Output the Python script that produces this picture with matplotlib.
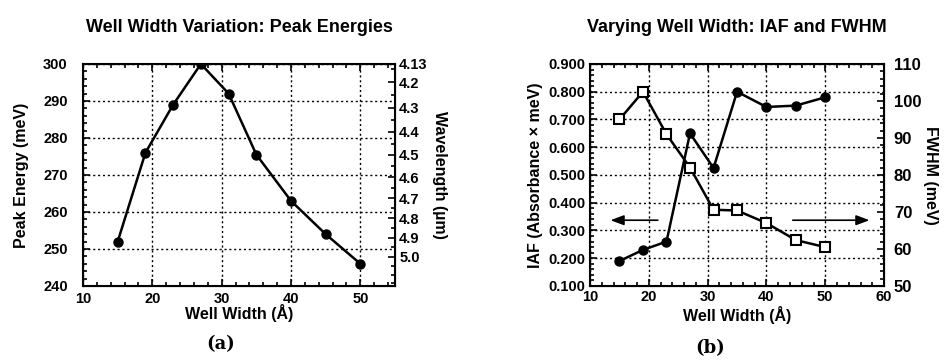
import matplotlib
matplotlib.use("Agg")
import matplotlib.pyplot as plt
from matplotlib.ticker import AutoMinorLocator, FixedLocator
import numpy as np

# ---- data ----
well_width = [15, 19, 23, 27, 31, 35, 40, 45, 50]
peak_energy = [252, 276, 289, 300, 292, 275.5, 263, 254, 246]
wavelength_ticks = [4.13, 4.2, 4.3, 4.4, 4.5, 4.6, 4.7, 4.8, 4.9, 5.0]
wavelength_labels = ["4.13", "4.2", "4.3", "4.4", "4.5", "4.6", "4.7", "4.8", "4.9", "5.0"]

iaf = [0.19, 0.23, 0.26, 0.65, 0.525, 0.80, 0.745, 0.75, 0.78]
fwhm = [95, 102.5, 91, 82, 70.6, 70.4, 67, 62.4, 60.5]

iaf_ticks = [0.1, 0.2, 0.3, 0.4, 0.5, 0.6, 0.7, 0.8, 0.9]
iaf_labels = ["0.100", "0.200", "0.300", "0.400", "0.500", "0.600", "0.700", "0.800", "0.900"]

plt.rcParams['font.family'] = ['Liberation Sans', 'DejaVu Sans']
plt.rcParams['font.weight'] = 'bold'

fig = plt.figure(figsize=(9.5, 3.6), dpi=100)

HC = 1239.84  # meV*um

def style(ax, size):
    ax.tick_params(which='both', direction='in', top=True, right=True, width=1.2, labelsize=size)
    ax.tick_params(which='major', length=5)
    ax.tick_params(which='minor', length=3)
    for s in ax.spines.values():
        s.set_linewidth(1.5)
    ax.grid(True, which='major', linestyle=(0, (1.5, 2)), color='black', linewidth=1.0)
    for lab in ax.get_xticklabels() + ax.get_yticklabels():
        lab.set_fontweight('bold')

# ---- panel (a) ----
ax1 = fig.add_axes([0.0874, 0.2056, 0.3284, 0.6167])
ax1.plot(well_width, peak_energy, color='black', linewidth=1.8, marker='o', markersize=6.5)
ax1.set_xlim(10, 55)
ax1.set_ylim(240, 300)
ax1.set_xticks([10, 20, 30, 40, 50])
ax1.set_yticks([240, 250, 260, 270, 280, 290, 300])
ax1.xaxis.set_minor_locator(AutoMinorLocator(5))
ax1.yaxis.set_minor_locator(AutoMinorLocator(5))
style(ax1, 10.5)
ax1.tick_params(right=False, which='both')
ax1.tick_params(axis='y', pad=11)
ax1.tick_params(axis='x', pad=4)
ax1.set_xlabel("Well Width (Å)", fontsize=11.5, fontweight='bold', labelpad=-1)
ax1.set_ylabel("Peak Energy (meV)", fontsize=11.5, fontweight='bold', labelpad=10)
ax1.set_title("Well Width Variation: Peak Energies", fontsize=13, fontweight='bold', pad=23)

ax1r = ax1.twinx()
ax1r.set_ylim(240, 300)
ax1r.set_yticks([HC / w for w in wavelength_ticks])
ax1r.set_yticklabels(wavelength_labels)
minor_w = np.arange(4.15, 5.2, 0.05)
ax1r.yaxis.set_minor_locator(FixedLocator([HC / w for w in minor_w if 240 <= HC / w <= 300]))
ax1r.tick_params(which='both', direction='in', width=1.2, labelsize=10.5, pad=3)
ax1r.tick_params(which='major', length=5)
ax1r.tick_params(which='minor', length=3)
for lab in ax1r.get_yticklabels():
    lab.set_fontweight('bold')
ax1r.set_ylabel("Wavelength (µm)", fontsize=11.5, fontweight='bold', rotation=270, labelpad=14)

fig.text(0.232, 0.03, "(a)", fontsize=13, fontweight='bold', family='DejaVu Serif', ha='center')

# ---- panel (b) ----
ax2 = fig.add_axes([0.6211, 0.2056, 0.3095, 0.6167])
ax2.plot(well_width, iaf, color='black', linewidth=1.8, marker='o', markersize=6.5)
ax2.set_xlim(10, 60)
ax2.set_ylim(0.1, 0.9)
ax2.set_xticks([10, 20, 30, 40, 50, 60])
ax2.set_yticks(iaf_ticks)
ax2.set_yticklabels(iaf_labels)
ax2.xaxis.set_minor_locator(AutoMinorLocator(5))
ax2.yaxis.set_minor_locator(AutoMinorLocator(5))
style(ax2, 10.5)
ax2.tick_params(right=False, which='both')
ax2.tick_params(axis='x', pad=3)
ax2.set_xlabel("Well Width (Å)", fontsize=11.5, fontweight='bold', labelpad=1)
ax2.set_ylabel("IAF (Absorbance × meV)", fontsize=11.5, fontweight='bold', labelpad=4)
ax2.set_title("Varying Well Width: IAF and FWHM", fontsize=13, fontweight='bold', pad=23)

ax2r = ax2.twinx()
ax2r.plot(well_width, fwhm, color='black', linewidth=1.8, marker='s', markersize=6.5,
          markerfacecolor='white', markeredgewidth=1.5)
ax2r.set_ylim(50, 110)
ax2r.set_yticks([50, 60, 70, 80, 90, 100, 110])
ax2r.yaxis.set_minor_locator(AutoMinorLocator(5))
ax2r.tick_params(which='both', direction='in', width=1.2, labelsize=12, pad=7)
ax2r.tick_params(which='major', length=5)
ax2r.tick_params(which='minor', length=3)
for lab in ax2r.get_yticklabels():
    lab.set_fontweight('bold')
ax2r.set_ylabel("FWHM (meV)", fontsize=11.5, fontweight='bold', rotation=270, labelpad=12)

ax2.annotate("", xy=(13, 0.337), xytext=(22, 0.337),
             arrowprops=dict(arrowstyle='-|>,head_length=0.8,head_width=0.3', color='black',
                             facecolor='white', linewidth=1.2))
ax2.annotate("", xy=(58, 0.337), xytext=(44, 0.337),
             arrowprops=dict(arrowstyle='-|>,head_length=0.8,head_width=0.3', color='black',
                             facecolor='white', linewidth=1.2))

fig.text(0.747, 0.02, "(b)", fontsize=13, fontweight='bold', family='DejaVu Serif', ha='center')

fig.savefig("out.png", dpi=100)
